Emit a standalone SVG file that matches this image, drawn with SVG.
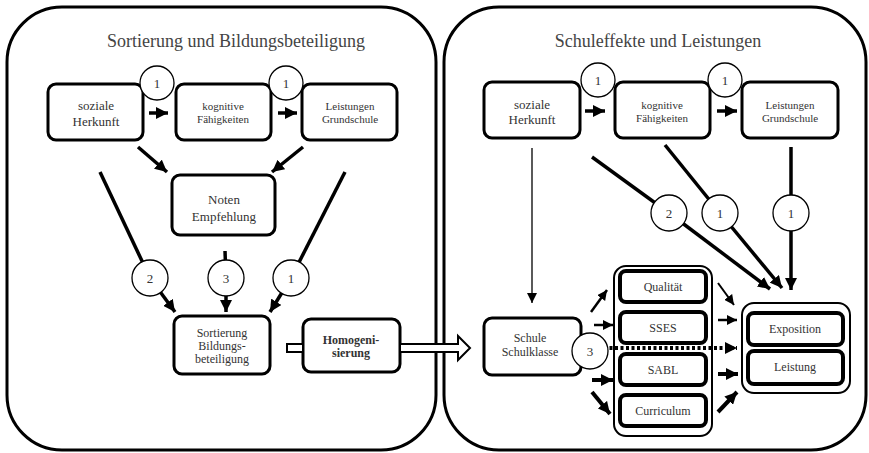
<svg xmlns="http://www.w3.org/2000/svg" width="869" height="453" viewBox="0 0 869 453">
<defs>
<style>
.panel{fill:#fff;stroke:#000;stroke-width:3}
.box{fill:#fff;stroke:#000;stroke-width:3}
.ibox{fill:#fff;stroke:#000;stroke-width:4}
.grp{fill:#fff;stroke:#000;stroke-width:2}
.t{font-family:"Liberation Serif","Times New Roman",serif;fill:#333;text-anchor:middle}
.title{font-size:18px;fill:#444}
.s13{font-size:13px}
.s12{font-size:12px}
.s11{font-size:11px}
.e{stroke:#000;stroke-width:3.5;fill:none}
.thin{stroke:#000;stroke-width:1.3;fill:none}
.circ{fill:#fff;stroke:#000;stroke-width:1.3}
.hollow{fill:#fff;stroke:#000;stroke-width:2}
</style>
<marker id="ah" markerUnits="userSpaceOnUse" markerWidth="12" markerHeight="12" refX="12" refY="6" orient="auto"><path d="M0,0 L12,6 L0,12 z" fill="#000"/></marker>
<marker id="ahs" markerUnits="userSpaceOnUse" markerWidth="10" markerHeight="10" refX="10" refY="5" orient="auto"><path d="M0,0 L10,5 L0,10 z" fill="#000"/></marker>
</defs>
<rect width="869" height="453" fill="#fff"/>
<g id="panel-left"><rect class="panel" x="7" y="7" width="429" height="443" rx="55"/><text class="t title" x="236" y="47">Sortierung und Bildungsbeteiligung</text></g>
<g id="panel-right"><rect class="panel" x="444" y="7" width="422" height="443" rx="55"/><text class="t title" x="658" y="47">Schuleffekte und Leistungen</text></g>

<g id="L-soziale"><rect class="box" x="48" y="84" width="95" height="56" rx="8"/><text class="t s13" x="96" y="110">soziale</text><text class="t s13" x="96" y="126">Herkunft</text></g>
<g id="L-kognitive"><rect class="box" x="176" y="84" width="95" height="56" rx="8"/><text class="t s11" x="223" y="110">kognitive</text><text class="t s11" x="223" y="123">Fähigkeiten</text></g>
<g id="L-leistungen"><rect class="box" x="302" y="84" width="95" height="56" rx="8"/><text class="t s11" x="350" y="110">Leistungen</text><text class="t s11" x="350" y="123">Grundschule</text></g>
<g id="L-noten"><rect class="box" x="172" y="175" width="103" height="60" rx="8"/><text class="t s13" x="224" y="204">Noten</text><text class="t s13" x="224" y="221">Empfehlung</text></g>
<g id="L-sortierung"><rect class="box" x="174" y="316" width="96" height="58" rx="8"/><text class="t s12" x="222" y="337">Sortierung</text><text class="t s12" x="222" y="350">Bildungs-</text><text class="t s12" x="222" y="363">beteiligung</text></g>
<g id="L-homogen"><rect class="box" x="303" y="319" width="97" height="53" rx="8"/><text class="t s12" x="351" y="344" font-weight="bold">Homogeni-</text><text class="t s12" x="351" y="357" font-weight="bold">sierung</text></g>

<g id="R-soziale"><rect class="box" x="484" y="82" width="96" height="56" rx="8"/><text class="t s13" x="532" y="109">soziale</text><text class="t s13" x="532" y="124">Herkunft</text></g>
<g id="R-kognitive"><rect class="box" x="615" y="82" width="95" height="56" rx="8"/><text class="t s11" x="662" y="109">kognitive</text><text class="t s11" x="662" y="122">Fähigkeiten</text></g>
<g id="R-leistungen"><rect class="box" x="742" y="82" width="96" height="56" rx="8"/><text class="t s11" x="790" y="109">Leistungen</text><text class="t s11" x="790" y="122">Grundschule</text></g>
<g id="R-schule"><rect class="box" x="484" y="318" width="97" height="57" rx="8"/><text class="t s12" x="530" y="342">Schule</text><text class="t s12" x="530" y="356">Schulklasse</text></g>
<g id="R-merkmale"><rect class="grp" x="614" y="266" width="98" height="170" rx="12"/>
<rect class="ibox" x="620" y="271" width="86" height="31" rx="6"/><text class="t s12" x="663" y="291">Qualität</text>
<rect class="ibox" x="620" y="312" width="86" height="31" rx="6"/><text class="t s12" x="663" y="332">SSES</text>
<rect class="ibox" x="620" y="354" width="86" height="31" rx="6"/><text class="t s12" x="663" y="374">SABL</text>
<rect class="ibox" x="620" y="395" width="86" height="31" rx="6"/><text class="t s12" x="663" y="415">Curriculum</text></g>
<g id="R-ergebnis"><rect class="grp" x="742" y="303" width="108" height="90" rx="12"/>
<rect class="ibox" x="748" y="313" width="95" height="32" rx="6"/><text class="t s12" x="795" y="333">Exposition</text>
<rect class="ibox" x="748" y="351" width="95" height="33" rx="6"/><text class="t s12" x="795" y="371">Leistung</text></g>

<g id="connectors">
<line class="e" x1="149" y1="113" x2="168" y2="113" marker-end="url(#ah)"/>
<line class="e" x1="278" y1="113" x2="297" y2="113" marker-end="url(#ah)"/>
<line class="e" x1="138" y1="147" x2="167" y2="172" marker-end="url(#ah)"/>
<line class="e" x1="303" y1="147" x2="272" y2="172" marker-end="url(#ah)"/>
<line class="e" x1="100" y1="172" x2="150" y2="278"/>
<line class="e" x1="150" y1="278" x2="175" y2="312" marker-end="url(#ah)"/>
<line class="e" x1="225" y1="251" x2="226" y2="278"/>
<line class="e" x1="226" y1="278" x2="226" y2="312" marker-end="url(#ah)"/>
<line class="e" x1="345" y1="172" x2="291" y2="278"/>
<line class="e" x1="291" y1="278" x2="270" y2="312" marker-end="url(#ah)"/>
<polygon class="hollow" points="287,344 303,344 303,352 287,352"/>
<polygon class="hollow" points="400,344 458,344 458,336 470,348 458,360 458,352 400,352"/>

<line class="e" x1="585" y1="111" x2="605" y2="111" marker-end="url(#ah)"/>
<line class="e" x1="717" y1="111" x2="737" y2="111" marker-end="url(#ah)"/>
<line class="thin" x1="532" y1="148" x2="532" y2="303" marker-end="url(#ahs)"/>
<line class="e" x1="592" y1="157" x2="669" y2="213"/>
<line class="e" x1="669" y1="213" x2="770" y2="289" marker-end="url(#ah)"/>
<line class="e" x1="665" y1="145" x2="720" y2="213"/>
<line class="e" x1="720" y1="213" x2="782" y2="288" marker-end="url(#ah)"/>
<line class="e" x1="791" y1="147" x2="791" y2="213"/>
<line class="e" x1="791" y1="213" x2="791" y2="290" marker-end="url(#ah)"/>
<line stroke="#000" stroke-width="2.5" x1="591" y1="312" x2="607" y2="290" marker-end="url(#ahs)"/>
<line stroke="#000" stroke-width="2.5" x1="594" y1="325" x2="613" y2="325" marker-end="url(#ahs)"/>
<line stroke="#000" stroke-width="4" stroke-dasharray="3,2.5" x1="604" y1="348" x2="737" y2="348" marker-end="url(#ah)"/>
<line stroke="#000" stroke-width="4" x1="592" y1="380" x2="613" y2="380" marker-end="url(#ah)"/>
<line stroke="#000" stroke-width="4" x1="592" y1="392" x2="610" y2="414" marker-end="url(#ah)"/>
<line stroke="#000" stroke-width="2" x1="718" y1="283" x2="734" y2="305" marker-end="url(#ahs)"/>
<line stroke="#000" stroke-width="2.5" x1="718" y1="320" x2="737" y2="320" marker-end="url(#ahs)"/>
<line stroke="#000" stroke-width="4" x1="718" y1="374" x2="738" y2="374" marker-end="url(#ah)"/>
<line stroke="#000" stroke-width="4" x1="718" y1="412" x2="737" y2="392" marker-end="url(#ah)"/>
</g>

<g id="labels">
<circle class="circ" cx="157" cy="83" r="17"/><text class="t s13" x="157" y="88">1</text>
<circle class="circ" cx="286" cy="83" r="17"/><text class="t s13" x="286" y="88">1</text>
<circle class="circ" cx="150" cy="278" r="18"/><text class="t s13" x="150" y="283">2</text>
<circle class="circ" cx="226" cy="278" r="18"/><text class="t s13" x="226" y="283">3</text>
<circle class="circ" cx="291" cy="278" r="18"/><text class="t s13" x="291" y="283">1</text>
<circle class="circ" cx="598" cy="80" r="17"/><text class="t s13" x="598" y="85">1</text>
<circle class="circ" cx="725" cy="80" r="17"/><text class="t s13" x="725" y="85">1</text>
<circle class="circ" cx="669" cy="213" r="18"/><text class="t s13" x="669" y="218">2</text>
<circle class="circ" cx="720" cy="213" r="18"/><text class="t s13" x="720" y="218">1</text>
<circle class="circ" cx="791" cy="213" r="18"/><text class="t s13" x="791" y="218">1</text>
<circle class="circ" cx="590" cy="351" r="18"/><text class="t s13" x="590" y="356">3</text>
</g>
</svg>
